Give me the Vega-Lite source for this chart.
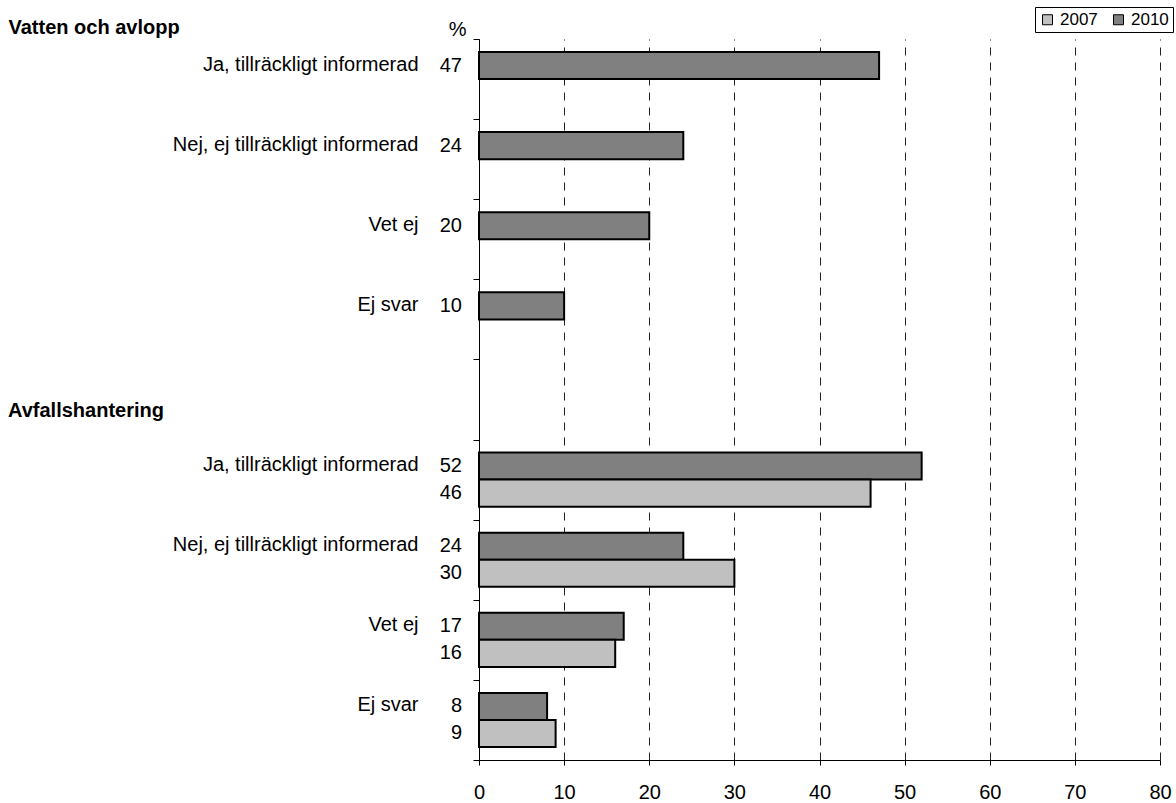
{
  "$schema": "https://vega.github.io/schema/vega-lite/v6.json",
  "autosize": {"type": "none"},
  "width": 681,
  "height": 721,
  "padding": {"left": 479, "top": 39, "right": 16, "bottom": 43},
  "background": "white",
  "config": {"view": {"stroke": null}, "font": "Liberation Sans"},
  "datasets": {
    "bars": [
      {"key": "Vatten: Ja, tillräckligt informerad", "year": "2010", "value": 47},
      {"key": "Vatten: Nej, ej tillräckligt informerad", "year": "2010", "value": 24},
      {"key": "Vatten: Vet ej", "year": "2010", "value": 20},
      {"key": "Vatten: Ej svar", "year": "2010", "value": 10},
      {"key": "Avfall: Ja, tillräckligt informerad", "year": "2010", "value": 52},
      {"key": "Avfall: Ja, tillräckligt informerad", "year": "2007", "value": 46},
      {"key": "Avfall: Nej, ej tillräckligt informerad", "year": "2010", "value": 24},
      {"key": "Avfall: Nej, ej tillräckligt informerad", "year": "2007", "value": 30},
      {"key": "Avfall: Vet ej", "year": "2010", "value": 17},
      {"key": "Avfall: Vet ej", "year": "2007", "value": 16},
      {"key": "Avfall: Ej svar", "year": "2010", "value": 8},
      {"key": "Avfall: Ej svar", "year": "2007", "value": 9}
    ],
    "headings": [
      {"key": "Avfallshantering", "label": "Avfallshantering"}
    ]
  },
  "encoding": {
    "y": {
      "field": "key",
      "type": "nominal",
      "scale": {
        "domain": [
          "Vatten: Ja, tillräckligt informerad",
          "Vatten: Nej, ej tillräckligt informerad",
          "Vatten: Vet ej",
          "Vatten: Ej svar",
          "Avfallshantering",
          "Avfall: Ja, tillräckligt informerad",
          "Avfall: Nej, ej tillräckligt informerad",
          "Avfall: Vet ej",
          "Avfall: Ej svar"
        ],
        "paddingInner": 0,
        "paddingOuter": 0
      },
      "axis": {
        "title": "Vatten och avlopp",
        "titleFont": "Liberation Sans",
        "titleFontWeight": "bold",
        "titleFontSize": 20,
        "titleColor": "black",
        "titleAngle": 0,
        "titleAlign": "left",
        "titleBaseline": "alphabetic",
        "titleX": -471,
        "titleY": -6,
        "labelExpr": "isString(datum.value) && indexof(datum.value, ': ') > 0 ? substring(datum.value, indexof(datum.value, ': ') + 2) : ''",
        "labelFont": "Liberation Sans",
        "labelFontSize": 20,
        "labelColor": "black",
        "labelLimit": 0,
        "labelBaseline": "middle",
        "labelAlign": "right",
        "labelPadding": 55,
        "labelOffset": -15,
        "tickBand": "extent",
        "tickSize": 6,
        "tickColor": "black",
        "domainColor": "black",
        "grid": false
      }
    }
  },
  "layer": [
    {
      "data": {"name": "bars"},
      "mark": {"type": "bar", "stroke": "black", "strokeWidth": 2},
      "encoding": {
        "yOffset": {
          "field": "year",
          "type": "nominal",
          "scale": {"domain": ["2010", "2007"], "paddingInner": 0, "paddingOuter": 0.48}
        },
        "x": {
          "field": "value",
          "type": "quantitative",
          "scale": {"domain": [0, 80], "nice": false},
          "axis": {
            "values": [0, 10, 20, 30, 40, 50, 60, 70, 80],
            "title": "%",
            "titleFont": "Liberation Sans",
            "titleFontSize": 20,
            "titleFontWeight": "normal",
            "titleColor": "black",
            "titleAlign": "right",
            "titleBaseline": "alphabetic",
            "titleX": -13,
            "titleY": -725,
            "labelFont": "Liberation Sans",
            "labelFontSize": 20,
            "labelColor": "black",
            "labelPadding": 17,
            "labelFlush": false,
            "tickSize": 5,
            "tickColor": "black",
            "domainColor": "black",
            "grid": true,
            "gridDash": [8, 7],
            "gridColor": "#222222",
            "gridWidth": 1
          }
        },
        "color": {
          "field": "year",
          "type": "nominal",
          "scale": {"domain": ["2007", "2010"], "range": ["#C0C0C0", "#808080"]},
          "legend": {
            "orient": "none",
            "legendX": 556,
            "legendY": -32,
            "direction": "horizontal",
            "title": null,
            "strokeColor": "black",
            "fillColor": "white",
            "padding": 4,
            "cornerRadius": 0,
            "symbolType": "square",
            "symbolSize": 100,
            "symbolStrokeColor": "black",
            "symbolStrokeWidth": 1,
            "labelFont": "Liberation Sans",
            "labelFontSize": 17,
            "labelColor": "black",
            "labelOffset": 4,
            "columnPadding": 12
          }
        }
      }
    },
    {
      "data": {"name": "bars"},
      "mark": {"type": "text", "align": "right", "baseline": "middle", "dx": -17, "fontSize": 20, "font": "Liberation Sans", "color": "black"},
      "encoding": {
        "yOffset": {"field": "year", "type": "nominal"},
        "x": {"datum": 0, "type": "quantitative"},
        "text": {"field": "value", "type": "quantitative"}
      }
    },
    {
      "data": {"name": "headings"},
      "mark": {"type": "text", "align": "left", "baseline": "middle", "dx": -471, "dy": 11, "fontSize": 20, "fontWeight": "bold", "font": "Liberation Sans", "color": "black"},
      "encoding": {
        "x": {"datum": 0, "type": "quantitative"},
        "text": {"field": "label", "type": "nominal"}
      }
    }
  ]
}
